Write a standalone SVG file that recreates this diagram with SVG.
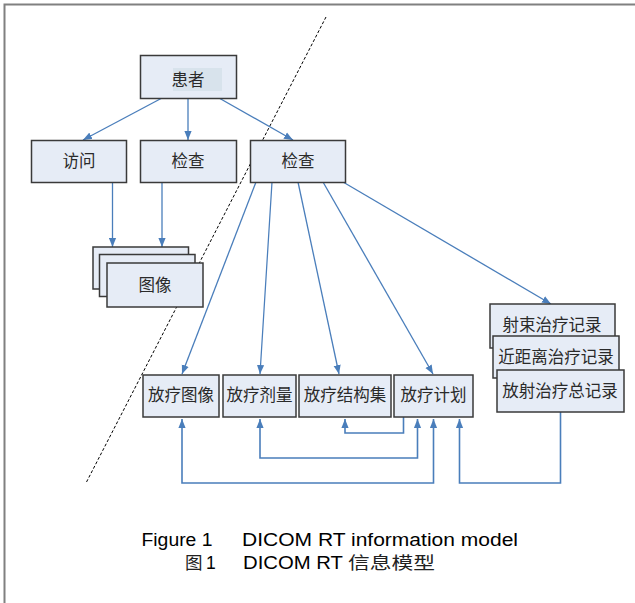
<svg xmlns="http://www.w3.org/2000/svg" width="635" height="603" viewBox="0 0 635 603">
  <style>
    .box { fill: #E6ECF6; stroke: #3a3a3a; stroke-width: 1.5; }
    .lbl { font-family: "Noto Sans CJK SC", "Noto Sans", sans-serif; font-size: 16.5px; fill: #2a2a2a; text-anchor: middle; }
    .cap { font-family: "Liberation Sans", "Noto Sans CJK SC", sans-serif; font-size: 17.5px; fill: #000; }
    .capcjk { font-family: "Noto Sans CJK SC", sans-serif; font-size: 17.5px; fill: #222; }
    .link { fill: none; stroke: #4A7EBB; stroke-width: 1.3; }
    .loop { fill: none; stroke: #4A7EBB; stroke-width: 1.6; }
  </style>
  <defs>
    <marker id="arrow" viewBox="0 0 10 8" refX="10" refY="4" markerWidth="9" markerHeight="8" markerUnits="userSpaceOnUse" orient="auto-start-reverse">
      <path d="M0,0 L10,4 L0,8 z" fill="#4A7EBB"/>
    </marker>
  </defs>

  <rect width="635" height="603" fill="#fff"/>
  <!-- outer frame -->
  <path d="M4.5,604 V4.5 H636" fill="none" stroke="#808080" stroke-width="2"/>

  <!-- dividing dashed line -->
  <line x1="326" y1="17" x2="86" y2="483" stroke="#000" stroke-width="1" stroke-dasharray="3,2"/>

  <!-- connectors -->
  <g id="connectors">
    <line class="link" x1="162" y1="98" x2="83" y2="140" marker-end="url(#arrow)"/>
    <line class="link" x1="188" y1="98" x2="188" y2="140" marker-end="url(#arrow)"/>
    <line class="link" x1="219" y1="98" x2="293" y2="140" marker-end="url(#arrow)"/>
    <line class="link" x1="112.5" y1="183" x2="112.5" y2="247" marker-end="url(#arrow)"/>
    <line class="link" x1="162" y1="183" x2="162" y2="247" marker-end="url(#arrow)"/>
    <line class="link" x1="256" y1="182" x2="182" y2="374" marker-end="url(#arrow)"/>
    <line class="link" x1="272" y1="182" x2="260" y2="374" marker-end="url(#arrow)"/>
    <line class="link" x1="298" y1="182" x2="339" y2="374" marker-end="url(#arrow)"/>
    <line class="link" x1="323" y1="182" x2="433" y2="374" marker-end="url(#arrow)"/>
    <line class="link" x1="343" y1="182" x2="551" y2="304" marker-end="url(#arrow)"/>
    <path class="loop" d="M403.5,417 V433 H345 V419" marker-end="url(#arrow)"/>
    <path class="loop" d="M260,419 V458 H417.5 V419" marker-start="url(#arrow)" marker-end="url(#arrow)"/>
    <path class="loop" d="M182,419 V483 H433.5 V419" marker-start="url(#arrow)" marker-end="url(#arrow)"/>
    <path class="loop" d="M560.5,412 V483 H459.5 V419" marker-end="url(#arrow)"/>
  </g>

  <!-- top level -->
  <g id="patient">
    <rect class="box" x="140.5" y="55.5" width="96" height="43"/>
    <rect x="173" y="68" width="49" height="23" fill="#D8E3EC"/>
    <text class="lbl" x="188" y="86">患者</text>
  </g>
  <g id="visit">
    <rect class="box" x="31.5" y="140.5" width="95" height="42"/>
    <text class="lbl" x="79" y="167">访问</text>
  </g>
  <g id="study">
    <rect class="box" x="140.5" y="140.5" width="96" height="42"/>
    <text class="lbl" x="188" y="167">检查</text>
  </g>
  <g id="study-rt">
    <rect class="box" x="250.5" y="140.5" width="95" height="42"/>
    <text class="lbl" x="298" y="167">检查</text>
  </g>

  <!-- image stack -->
  <g id="images">
    <rect class="box" x="93" y="247" width="95.5" height="42"/>
    <rect class="box" x="99.5" y="254.5" width="95.5" height="42"/>
    <rect class="box" x="107" y="263" width="96" height="44"/>
    <text class="lbl" x="155" y="291">图像</text>
  </g>

  <!-- RT objects -->
  <g id="rt-image">
    <rect class="box" x="143" y="375" width="76" height="42"/>
    <text class="lbl" x="181" y="401">放疗图像</text>
  </g>
  <g id="rt-dose">
    <rect class="box" x="223" y="375" width="73" height="42"/>
    <text class="lbl" x="259.5" y="401">放疗剂量</text>
  </g>
  <g id="rt-structure-set">
    <rect class="box" x="299" y="375" width="92" height="42"/>
    <text class="lbl" x="345" y="401">放疗结构集</text>
  </g>
  <g id="rt-plan">
    <rect class="box" x="394" y="375" width="79" height="42"/>
    <text class="lbl" x="433.5" y="401">放疗计划</text>
  </g>

  <!-- treatment record stack -->
  <g id="rt-beams-record">
    <rect class="box" x="490" y="304" width="125" height="44"/>
    <text class="lbl" x="552" y="331">射束治疗记录</text>
  </g>
  <g id="rt-brachy-record">
    <rect class="box" x="493" y="336" width="126" height="42"/>
    <text class="lbl" x="556" y="363">近距离治疗记录</text>
  </g>
  <g id="rt-summary-record">
    <rect class="box" x="497" y="370" width="127" height="42"/>
    <text class="lbl" x="560" y="397">放射治疗总记录</text>
  </g>

  <!-- caption -->
  <g id="caption">
    <text class="cap" x="141.5" y="546" textLength="71" lengthAdjust="spacingAndGlyphs">Figure 1</text>
    <text class="cap" x="242" y="546" textLength="276" lengthAdjust="spacingAndGlyphs">DICOM RT information model</text>
    <text class="capcjk" x="185" y="569">图</text>
    <text class="cap" x="206" y="569">1</text>
    <text class="cap" x="243" y="569" textLength="100" lengthAdjust="spacingAndGlyphs">DICOM RT</text>
    <text class="capcjk" x="348" y="569" textLength="87" lengthAdjust="spacingAndGlyphs">信息模型</text>
  </g>
</svg>
